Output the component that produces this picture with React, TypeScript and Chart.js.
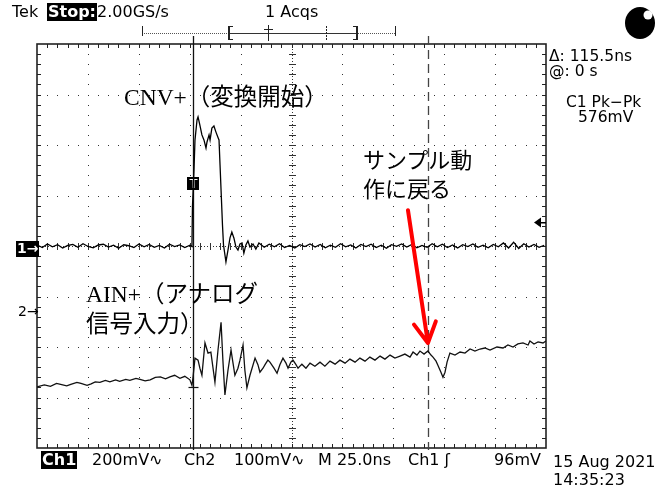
import React, { useEffect, useRef } from "react";
import { Chart, registerables } from "chart.js";
Chart.register(...registerables);

// Horizontal: 25 ns/div, 10 divisions; cursor 1 at 0 s
const timeMin = -76.6;
const timeMax = 173.4;
// Ch1: 200 mV/div, ground marker at screen centre
const ch1Min = -800;
const ch1Max = 800;
// Ch2: 100 mV/div, ground marker 1.31 div below centre
const ch2Min = -269;
const ch2Max = 531;
const cursorTimes = [0, 115.5];
const triggerLevel = 96; // mV on Ch1
const arrowFrom = [105.6, 202]; // ns, Ch2 mV
const arrowTo = [115.4, -61];

const ch1Times = [
  -76.5, -74, -71.5, -69, -66.5, -64, -61.5, -59, -56.5, -54,
  -51.5, -49, -46.5, -44, -41.5, -39, -36.5, -34, -31.5, -29,
  -26.5, -24, -21.5, -19, -16.5, -14, -11.5, -9, -6.5, -4,
  -1.5, -0.5, -0.25, 0.5, 1, 2, 2.5, 3.4, 4.4, 5.4,
  6.4, 6.9, 7.9, 8.4, 9.3, 10.3, 11.3, 12.3, 12.8, 13.3,
  14, 14.5, 15, 16.2, 17.2, 18.2, 19.1, 20.1, 21.1, 22.1,
  23.1, 24.1, 25, 26, 27, 28, 29.5, 30.9, 32.4,
  35, 37.5, 40, 42.5, 45, 47.5, 50, 52.5, 55, 57.5,
  60, 62.5, 65, 67.5, 70, 72.5, 75, 77.5, 80, 82.5,
  85, 87.5, 90, 92.5, 95, 97.5, 100, 102.5, 105, 107.5,
  110, 112.5, 115, 117.5, 120, 122.5, 125, 127.5, 130, 132.5,
  135, 137.5, 140, 142.5, 145, 147.5, 150, 152.5, 155, 157.5,
  160, 162.5, 165, 167.5, 170, 172.5,
];
const ch1Values = [
  4, -6, 8, -3, 5, -8, 2, 6, -5, 9,
  -2, -7, 4, 7, -4, 3, -9, 5, 1, -6,
  8, -3, 6, -5, 2, -8, 7, -2, 4, -6,
  3, -2, 154, 301, 420, 499, 511, 479, 440, 420,
  388, 412, 440, 420, 467, 475, 451, 430, 420, 321,
  182, 83, 4, -63, -16, 32, 55, 32, -4, -16,
  8, 12, -28, 4, 20, -4, 8, -12, 12,
  -5, 7, -3, 9, -6, 2, -8, 5, -2, 8,
  -4, 6, -7, 3, -5, 9, -3, 4, -8, 6,
  -2, 7, -6, 3, -9, 5, -1, 8, -4, 6,
  -7, 2, -5, 9, -3, 7, -6, 4, -8, 5,
  -2, 8, -5, 3, -7, 6, -3, 12, -8, 15,
  -10, 9, -4, 6, -5, 3,
];

const ch2Times = [
  -76.6, -73, -70, -67, -65, -62, -60, -57, -55, -52,
  -50, -48, -45.7, -43, -40.8, -38, -36, -33, -31, -28,
  -26, -23.5, -21, -18.5, -16, -13.5, -11.3, -9, -6.4, -4,
  -1.5, -0.5, 0, 1, 2.5, 3.4, 4.4, 5.9, 7.4, 8.8,
  10.8, 12.3, 13.8, 14.7, 15.7, 17.2, 18.7, 19.6, 20.6, 22.1,
  23.1, 24.6, 25.5, 26.5, 28, 30.5, 31.9, 32.9, 34.4, 35.4,
  36.8, 37.8, 39.8, 41.3, 42.7, 44.2, 45.7, 46.7, 48.1, 49.1,
  50.6, 51.6, 53.5, 55.5, 57.5, 59.9, 62.4, 64.8, 67.3, 69.8,
  72.2, 74.7, 77.1, 79.6, 82, 84.5, 86.9, 89.4, 91.9, 94.3,
  96.8, 99.2, 101.7, 104.1, 106.6, 108.1, 110, 111.5, 113.5, 115.4,
  116.9, 117.9, 119.4, 120.3, 121.8, 122.8, 123.8, 124.8, 126.2, 128.7,
  131.2, 133.6, 136.1, 138.5, 141, 143.4, 145.9, 149.3, 152.3, 154.7,
  157.2, 159.6, 162.1, 164.6, 165.5, 167.5, 169.5, 171.9, 173.4,
];
const ch2Values = [
  -148, -144, -147, -141, -143, -146, -143, -139, -141, -145,
  -142, -138, -139, -135, -138, -134, -137, -133, -135, -131,
  -133, -136, -134, -129, -128, -132, -128, -125, -131, -127,
  -134, -145, -130, -91, -95, -111, -125, -61, -81, -79,
  -139, -75, -20, -95, -164, -115, -75, -99, -125, -111,
  -95, -65, -115, -150, -125, -91, -104, -119, -111, -104,
  -95, -99, -111, -121, -104, -91, -101, -111, -99, -95,
  -104, -111, -103, -111, -101, -107, -99, -107, -97, -103,
  -95, -101, -93, -99, -91, -97, -89, -95, -87, -93,
  -85, -91, -87, -83, -89, -79, -85, -77, -83, -77,
  -85, -89, -97, -105, -119, -129, -119, -99, -81, -85,
  -79, -81, -73, -77, -73, -71, -75, -69, -71, -65,
  -69, -63, -61, -65, -57, -63, -59, -61, -57,
];

const scopePlugin = {
  id: "scope",
  beforeDatasetsDraw(chart: any) {
    const { ctx, chartArea: a, scales } = chart;
    const L = a.left, R = a.right, T = a.top, B = a.bottom;
    const dx = (R - L) / 10, dy = (B - T) / 8;
    ctx.save();
    ctx.fillStyle = "#333";
    // dotted graticule
    for (let i = 1; i < 10; i++) {
      if (i === 5) continue;
      const x = Math.round(L + i * dx);
      for (let k = 1; k < 40; k++) ctx.fillRect(x, Math.round(T + (k * dy) / 5), 1, 1);
    }
    for (let j = 1; j < 8; j++) {
      if (j === 4) continue;
      const y = Math.round(T + j * dy);
      for (let k = 1; k < 50; k++) ctx.fillRect(Math.round(L + (k * dx) / 5), y, 1, 1);
    }
    // centre cross with minor ticks
    const cx = Math.round(L + 5 * dx), cy = Math.round(T + 4 * dy);
    for (let y = T + 2; y < B; y += 3) ctx.fillRect(cx, Math.round(y), 1, 1);
    for (let x = L + 2; x < R; x += 3) ctx.fillRect(Math.round(x), cy, 1, 1);
    for (let k = 1; k < 40; k++) {
      const y = Math.round(T + (k * dy) / 5);
      ctx.fillRect(cx - 3, y, 7, 1);
    }
    for (let k = 1; k < 50; k++) {
      const x = Math.round(L + (k * dx) / 5);
      ctx.fillRect(x, cy - 3, 1, 7);
    }
    // edge ticks
    ctx.fillStyle = "#222";
    for (let k = 1; k < 50; k++) {
      const x = Math.round(L + (k * dx) / 5);
      ctx.fillRect(x, T, 1, 4);
      ctx.fillRect(x, B - 4, 1, 4);
    }
    for (let k = 1; k < 40; k++) {
      const y = Math.round(T + (k * dy) / 5);
      ctx.fillRect(L, y, 4, 1);
      ctx.fillRect(R - 4, y, 4, 1);
    }
    // border
    ctx.strokeStyle = "#222";
    ctx.lineWidth = 1.6;
    ctx.strokeRect(L, T, R - L, B - T);

    // cursors
    const x0 = Math.round(scales.x.getPixelForValue(cursorTimes[0])) + 0.5;
    const x1 = Math.round(scales.x.getPixelForValue(cursorTimes[1])) + 0.5;
    ctx.strokeStyle = "#111";
    ctx.lineWidth = 1.3;
    ctx.beginPath();
    ctx.moveTo(x0, T - 8);
    ctx.lineTo(x0, B + 2);
    ctx.stroke();
    ctx.strokeStyle = "#444";
    ctx.setLineDash([9, 5]);
    ctx.beginPath();
    ctx.moveTo(x1, T - 8);
    ctx.lineTo(x1, B + 2);
    ctx.stroke();
    ctx.setLineDash([]);

    // trigger level indicator on right edge
    const ty = Math.round(scales.y1.getPixelForValue(triggerLevel)) + 0.5;
    ctx.fillStyle = "#000";
    ctx.beginPath();
    ctx.moveTo(R - 12, ty);
    ctx.lineTo(R - 5, ty - 5);
    ctx.lineTo(R - 5, ty + 5);
    ctx.closePath();
    ctx.fill();
    ctx.fillRect(R - 6, ty - 0.5, 6, 1.5);

    // record view bar at top
    ctx.fillStyle = "#555";
    for (let x = 142; x <= 395; x += 2) ctx.fillRect(x, 33, 1, 1);
    ctx.fillStyle = "#333";
    ctx.fillRect(228, 33, 129, 1);
    ctx.fillStyle = "#222";
    ctx.fillRect(142, 26, 1, 10);
    ctx.fillRect(395, 26, 1, 10);
    ctx.fillRect(228, 26, 2, 14);
    ctx.fillRect(228, 26, 5, 1);
    ctx.fillRect(228, 39, 5, 1);
    ctx.fillRect(356, 26, 2, 14);
    ctx.fillRect(353, 26, 5, 1);
    ctx.fillRect(353, 39, 5, 1);
    ctx.fillRect(268, 25, 1, 16);
    ctx.fillRect(264, 29, 9, 1);
    for (let y = 26; y < 41; y += 3) ctx.fillRect(326, y, 1, 2);

    // busy/acquisition indicator
    ctx.fillStyle = "#000";
    ctx.beginPath();
    ctx.ellipse(640, 23, 15, 16, 0, 0, Math.PI * 2);
    ctx.fill();
    ctx.fillStyle = "#fff";
    ctx.beginPath();
    ctx.arc(648, 15, 4.5, 0, Math.PI * 2);
    ctx.fill();

    // trigger point marker on Ch1
    ctx.fillStyle = "#000";
    ctx.fillRect(x0 - 6.5, 177, 12, 13);
    ctx.fillStyle = "#fff";
    ctx.fillRect(x0 - 1, 179, 2, 9);
    ctx.fillRect(x0 - 4, 179, 8, 1);

    // cursor crossing on Ch2
    const cy2 = Math.round(scales.y2.getPixelForValue(-148)) + 0.5;
    ctx.strokeStyle = "#111";
    ctx.lineWidth = 1.2;
    ctx.beginPath();
    ctx.moveTo(x0 - 5, cy2);
    ctx.lineTo(x0 + 5, cy2);
    ctx.stroke();
    ctx.restore();
  },
  afterDatasetsDraw(chart: any) {
    const { ctx, scales } = chart;
    const sx = scales.x.getPixelForValue(arrowFrom[0]);
    const sy = scales.y2.getPixelForValue(arrowFrom[1]);
    const ex = scales.x.getPixelForValue(arrowTo[0]);
    const ey = scales.y2.getPixelForValue(arrowTo[1]);
    const ang = Math.atan2(sy - ey, sx - ex);
    const len = 23, spread = 0.5;
    ctx.save();
    ctx.strokeStyle = "#ff0000";
    ctx.lineWidth = 4;
    ctx.lineCap = "round";
    ctx.lineJoin = "round";
    ctx.beginPath();
    ctx.moveTo(sx, sy);
    ctx.lineTo(ex, ey);
    ctx.moveTo(ex + len * Math.cos(ang - spread), ey + len * Math.sin(ang - spread));
    ctx.lineTo(ex, ey);
    ctx.lineTo(ex + len * Math.cos(ang + spread), ey + len * Math.sin(ang + spread));
    ctx.stroke();
    ctx.restore();
  },
};

const tek = '"DejaVu Sans", sans-serif';
const jp = '"Liberation Serif", "Noto Sans CJK JP", serif';
const jpSans = '"Noto Sans CJK JP", sans-serif';

function Label(props: {
  x: number; cy: number; text: string; size?: number; font?: string;
  inverse?: boolean; bold?: boolean; right?: boolean;
}) {
  const size = props.size ?? 16;
  const style: any = {
    position: "absolute",
    top: props.cy - size * 0.55,
    fontFamily: props.font ?? tek,
    fontSize: size,
    lineHeight: `${size * 1.1}px`,
    whiteSpace: "nowrap",
    color: props.inverse ? "#fff" : "#000",
    background: props.inverse ? "#000" : "transparent",
    fontWeight: props.bold ? "bold" : "normal",
    padding: props.inverse ? "0 1px" : 0,
  };
  if (props.right) style.right = 670 - props.x;
  else style.left = props.x;
  return <div style={style}>{props.text}</div>;
}

export default function App() {
  const ref = useRef<HTMLCanvasElement>(null);
  useEffect(() => {
    document.body.style.margin = "0";
    const chart = new Chart(ref.current as HTMLCanvasElement, {
      type: "line",
      data: {
        datasets: [
          {
            label: "CNV+",
            data: ch1Times.map((t, i) => ({ x: t, y: ch1Values[i] })),
            yAxisID: "y1",
            borderColor: "#000",
            borderWidth: 1.3,
            pointRadius: 0,
            tension: 0,
          },
          {
            label: "AIN+",
            data: ch2Times.map((t, i) => ({ x: t, y: ch2Values[i] })),
            yAxisID: "y2",
            borderColor: "#111",
            borderWidth: 1.3,
            pointRadius: 0,
            tension: 0,
          },
        ],
      },
      options: {
        animation: false,
        responsive: false,
        devicePixelRatio: 1,
        events: [],
        layout: { padding: { left: 37, right: 124, top: 44, bottom: 40 } },
        scales: {
          x: { type: "linear", min: timeMin, max: timeMax, display: false },
          y1: { type: "linear", min: ch1Min, max: ch1Max, display: false },
          y2: { type: "linear", min: ch2Min, max: ch2Max, display: false },
        },
        plugins: { legend: { display: false }, tooltip: { enabled: false } },
      },
      plugins: [scopePlugin],
    } as any);
    return () => chart.destroy();
  }, []);

  return (
    <div style={{ position: "absolute", left: 0, top: 0, width: 670, height: 488, background: "#fff", overflow: "hidden" }}>
      <canvas ref={ref} width={670} height={488} style={{ position: "absolute", left: 0, top: 0 }} />
      <Label x={12} cy={12} text="Tek" />
      <Label x={47} cy={12} text="Stop:" inverse bold />
      <Label x={97} cy={12} text="2.00GS/s" />
      <Label x={265} cy={12} text="1 Acqs" />

      <Label x={549} cy={57} size={15.5} text="Δ: 115.5ns" />
      <Label x={549} cy={72} size={15.5} text="@: 0 s" />
      <Label x={566} cy={103} size={15.5} text="C1 Pk−Pk" />
      <Label x={578} cy={118} size={15.5} text="576mV" />

      <Label x={41} cy={460} text="Ch1" inverse bold />
      <Label x={92} cy={460} text="200mV∿" />
      <Label x={184} cy={460} text="Ch2" />
      <Label x={234} cy={460} text="100mV∿" />
      <Label x={318} cy={460} text="M 25.0ns" />
      <Label x={408} cy={460} text="Ch1 ʃ" />
      <Label x={541} cy={460} text="96mV" right />
      <Label x={553} cy={462} text="15 Aug 2021" />
      <Label x={553} cy={480} text="14:35:23" />

      <Label x={16} cy={249} size={14} text="1→" inverse bold />
      <Label x={18} cy={312} size={14} text="2→" />

      <Label x={124} cy={98} size={23.5} font={jp} text="CNV+（変換開始）" />
      <Label x={86} cy={295} size={23.5} font={jp} text="AIN+（アナログ" />
      <Label x={86} cy={325} size={23.5} font={jp} text="信号入力）" />
      <Label x={363} cy={158} size={22} font={jpSans} text="サンプル動" />
      <Label x={363} cy={187} size={22} font={jpSans} text="作に戻る" />
    </div>
  );
}
